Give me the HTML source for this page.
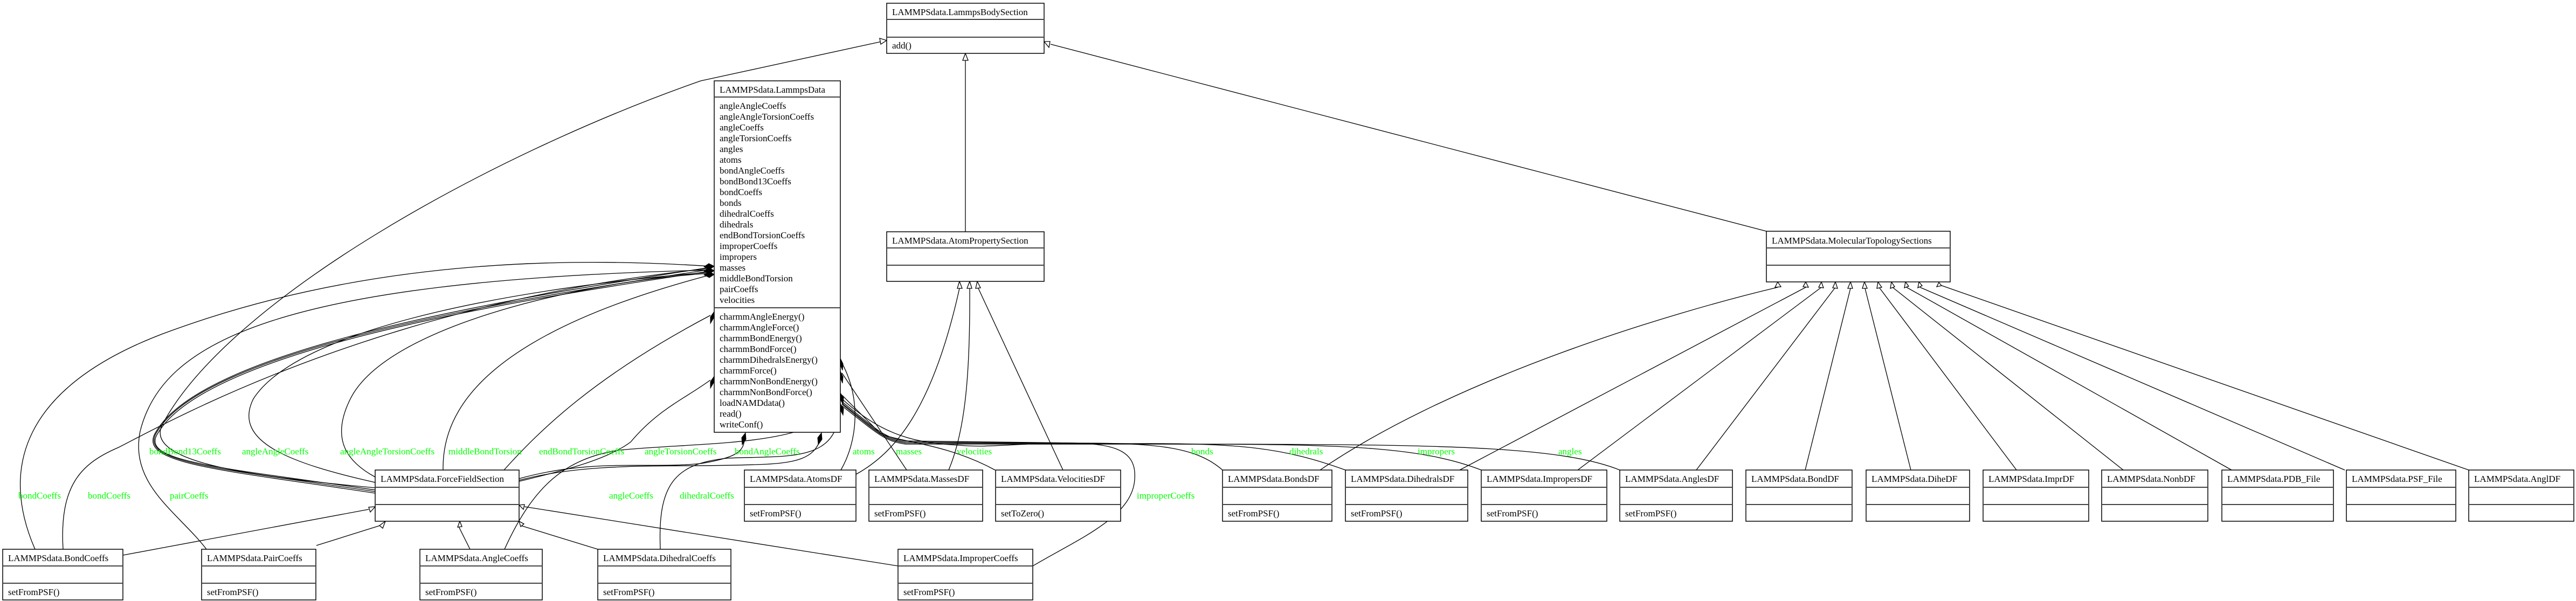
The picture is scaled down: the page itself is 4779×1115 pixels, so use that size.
<!DOCTYPE html>
<html><head><meta charset="utf-8"><style>
html,body{margin:0;padding:0;background:#fff;}
svg{display:block;}
text{font-family:"Liberation Serif",serif;font-size:17px;fill:#000;}
.g{fill:#00ff00;}
.b{fill:#fff;stroke:#000;stroke-width:1.5;}
.d{stroke:#444;stroke-width:2;}
.e{fill:none;stroke:#000;stroke-width:1.3;}
.t{fill:#fff;stroke:#000;stroke-width:1.3;}
.k{fill:#000;stroke:#000;stroke-width:1;}
</style></head><body>
<svg width="4779" height="1115" viewBox="0 0 4779 1115" xmlns="http://www.w3.org/2000/svg">

<!-- ===== edges: inheritance ===== -->
<path class="e" d="M1645,75 L1300,150 C900,290 420,560 300,790 C270,860 480,885 696,905"/>
<path class="e" d="M1791,112 L1791,430"/>
<path class="e" d="M1949,82 L3277,429"/>
<!-- AtomProperty children -->
<path class="e" d="M1588,880 C1660,840 1730,760 1780,535"/>
<path class="e" d="M1760,872 C1790,800 1800,700 1799,535"/>
<path class="e" d="M1972,872 L1815,535"/>
<!-- MolTop children -->
<path class="e" d="M2449,872 C2700,700 3100,580 3298,533"/>
<path class="e" d="M2708,872 L3350,533"/>
<path class="e" d="M2927,872 L3379,533"/>
<path class="e" d="M3147,872 L3405,533"/>
<path class="e" d="M3349,872 L3433,535"/>
<path class="e" d="M3545,872 L3460,535"/>
<path class="e" d="M3741,872 L3486,533"/>
<path class="e" d="M3939,872 L3511,533"/>
<path class="e" d="M4140,872 L3537,533"/>
<path class="e" d="M4350,872 L3562,533"/>
<path class="e" d="M4580,872 L3597,528"/>
<!-- coeff children to FFS -->
<path class="e" d="M228,1030 L684,945"/>
<path class="e" d="M587,1012 L705,975"/>
<path class="e" d="M872,1019 L851,977"/>
<path class="e" d="M1109,1019 L966,975"/>
<path class="e" d="M1666,1050 L973,940"/>

<!-- ===== edges: composition ===== -->
<path class="e" d="M65,1019 C0,870 40,720 300,620 C700,470 1100,480 1318,494"/>
<path class="e" d="M117,1019 C110,900 150,860 220,830 C300,790 700,560 1318,498"/>
<path class="e" d="M383,1019 C330,950 240,900 260,800 C300,640 500,520 1318,501"/>
<path class="e" d="M696,915 C400,870 250,860 290,800 C380,650 900,560 1318,496"/>
<path class="e" d="M696,912 C400,868 252,858 292,800 C382,652 902,562 1318,500"/>
<path class="e" d="M696,909 C400,866 254,856 294,802 C384,654 904,564 1318,503"/>
<path class="e" d="M696,895 C540,860 430,820 470,740 C560,600 1000,530 1318,505"/>
<path class="e" d="M696,885 C650,860 610,820 650,740 C720,600 1100,520 1318,507"/>
<path class="e" d="M822,872 C820,760 900,620 1318,510"/>
<path class="e" d="M935,872 C1000,800 1100,700 1318,585"/>
<path class="e" d="M963,893 C1060,870 1130,850 1170,820 C1220,760 1270,740 1318,705"/>
<path class="e" d="M963,888 C1100,850 1200,870 1300,860 C1360,850 1380,840 1381,815"/>
<path class="e" d="M963,891 C1100,855 1250,868 1400,862 C1480,860 1510,850 1522,815"/>
<path class="e" d="M936,1019 C990,900 1050,850 1150,835 C1300,820 1500,830 1559,753"/>
<path class="e" d="M1225,1019 C1220,900 1250,860 1350,850 C1460,845 1560,860 1556,752"/>
<path class="e" d="M1560,872 C1590,820 1600,740 1559,668"/>
<path class="e" d="M1682,872 L1562,692"/>
<path class="e" d="M1846,872 C1750,820 1660,820 1632,803 L1562,733"/>
<path class="e" d="M2268,872 C2220,830 2150,822 2000,822 L1680,818 C1640,812 1630,800 1562,745"/>
<path class="e" d="M2496,872 C2380,830 2300,822 2100,823 L1680,820 C1640,814 1630,802 1562,748"/>
<path class="e" d="M2748,872 C2640,830 2500,824 2200,824 L1680,822 C1640,816 1630,804 1562,750"/>
<path class="e" d="M3005,872 C2900,830 2700,825 2300,824 L1680,824 C1640,818 1630,806 1562,753"/>
<path class="e" d="M1916,1050 C2000,1000 2100,960 2105,890 C2110,830 2060,820 1950,822 C1850,826 1820,830 1780,826 C1700,822 1640,810 1562,740"/>

<!-- diamonds -->
<polygon class="k" points="1325,494 1315,489 1306,495 1316,500"/>
<polygon class="k" points="1325,502 1315,497 1306,503 1316,508"/>
<polygon class="k" points="1325,509 1315,504 1306,510 1316,515"/>
<polygon class="k" points="1325,578 1318,588 1318,600 1324,590"/>
<polygon class="k" points="1325,698 1318,708 1318,720 1324,710"/>
<polygon class="k" points="1383,803 1376,812 1377,825 1384,815"/>
<polygon class="k" points="1524,803 1517,812 1518,825 1525,815"/>
<polygon class="k" points="1559,665 1564,675 1563,687 1559,677"/>
<polygon class="k" points="1559,689 1564,699 1563,711 1559,701"/>
<polygon class="k" points="1559,729 1565,738 1564,750 1559,741"/>
<polygon class="k" points="1559,749 1565,758 1564,770 1559,761"/>

<!-- hollow triangles -->
<polygon class="t" points="1645,75 1632,71 1634,82"/>
<polygon class="t" points="1791,99 1786,112 1796,112"/>
<polygon class="t" points="1937,77 1948,77 1946,88"/>
<polygon class="t" points="1780,522 1776,535 1785,535"/>
<polygon class="t" points="1799,522 1794,535 1803,535"/>
<polygon class="t" points="1813,522 1810,535 1819,534"/>
<polygon class="t" points="3298,523 3293,533 3304,532"/>
<polygon class="t" points="3350,523 3345,532 3355,533"/>
<polygon class="t" points="3379,523 3374,533 3383,534"/>
<polygon class="t" points="3405,523 3400,534 3409,535"/>
<polygon class="t" points="3433,523 3428,535 3437,535"/>
<polygon class="t" points="3459,523 3455,535 3464,535"/>
<polygon class="t" points="3484,523 3482,535 3491,533"/>
<polygon class="t" points="3509,523 3507,535 3515,532"/>
<polygon class="t" points="3535,523 3533,534 3541,531"/>
<polygon class="t" points="3560,523 3558,534 3566,530"/>
<polygon class="t" points="3597,524 3593,532 3602,530"/>
<polygon class="t" points="696,940 684,941 687,950"/>
<polygon class="t" points="715,967 704,975 710,980"/>
<polygon class="t" points="853,967 849,978 857,977"/>
<polygon class="t" points="963,967 966,977 972,972"/>
<polygon class="t" points="963,937 973,936 971,945"/>

<!-- ===== boxes ===== -->
<!-- LammpsBodySection -->
<rect class="b" x="1645" y="6" width="292" height="93"/>
<line class="d" x1="1645" y1="36" x2="1937" y2="36"/><line class="d" x1="1645" y1="69" x2="1937" y2="69"/>
<text x="1655" y="28">LAMMPSdata.LammpsBodySection</text>
<text x="1655" y="90">add()</text>

<!-- LammpsData -->
<rect class="b" x="1325" y="150" width="234" height="652"/>
<line class="d" x1="1325" y1="180" x2="1559" y2="180"/><line class="d" x1="1325" y1="571" x2="1559" y2="571"/>
<text x="1335" y="172">LAMMPSdata.LammpsData</text>
<text x="1335" y="202">angleAngleCoeffs</text>
<text x="1335" y="222">angleAngleTorsionCoeffs</text>
<text x="1335" y="242">angleCoeffs</text>
<text x="1335" y="262">angleTorsionCoeffs</text>
<text x="1335" y="282">angles</text>
<text x="1335" y="302">atoms</text>
<text x="1335" y="322">bondAngleCoeffs</text>
<text x="1335" y="342">bondBond13Coeffs</text>
<text x="1335" y="362">bondCoeffs</text>
<text x="1335" y="382">bonds</text>
<text x="1335" y="402">dihedralCoeffs</text>
<text x="1335" y="422">dihedrals</text>
<text x="1335" y="442">endBondTorsionCoeffs</text>
<text x="1335" y="462">improperCoeffs</text>
<text x="1335" y="482">impropers</text>
<text x="1335" y="502">masses</text>
<text x="1335" y="522">middleBondTorsion</text>
<text x="1335" y="542">pairCoeffs</text>
<text x="1335" y="562">velocities</text>
<text x="1335" y="593">charmmAngleEnergy()</text>
<text x="1335" y="613">charmmAngleForce()</text>
<text x="1335" y="633">charmmBondEnergy()</text>
<text x="1335" y="653">charmmBondForce()</text>
<text x="1335" y="673">charmmDihedralsEnergy()</text>
<text x="1335" y="693">charmmForce()</text>
<text x="1335" y="713">charmmNonBondEnergy()</text>
<text x="1335" y="733">charmmNonBondForce()</text>
<text x="1335" y="753">loadNAMDdata()</text>
<text x="1335" y="773">read()</text>
<text x="1335" y="793">writeConf()</text>

<!-- AtomPropertySection -->
<rect class="b" x="1645" y="430" width="292" height="92"/>
<line class="d" x1="1645" y1="460" x2="1937" y2="460"/><line class="d" x1="1645" y1="492" x2="1937" y2="492"/>
<text x="1655" y="452">LAMMPSdata.AtomPropertySection</text>

<!-- MolecularTopologySections -->
<rect class="b" x="3277" y="429" width="341" height="94"/>
<line class="d" x1="3277" y1="460" x2="3618" y2="460"/><line class="d" x1="3277" y1="492" x2="3618" y2="492"/>
<text x="3287" y="452">LAMMPSdata.MolecularTopologySections</text>

<!-- middle row boxes (top 872) -->
<g>
<rect class="b" x="696" y="872" width="267" height="95"/>
<line class="d" x1="696" y1="904" x2="963" y2="904"/><line class="d" x1="696" y1="936" x2="963" y2="936"/>
<text x="706" y="894">LAMMPSdata.ForceFieldSection</text>

<rect class="b" x="1381" y="872" width="207" height="95"/>
<line class="d" x1="1381" y1="904" x2="1588" y2="904"/><line class="d" x1="1381" y1="936" x2="1588" y2="936"/>
<text x="1391" y="894">LAMMPSdata.AtomsDF</text><text x="1391" y="958">setFromPSF()</text>

<rect class="b" x="1612" y="872" width="211" height="95"/>
<line class="d" x1="1612" y1="904" x2="1823" y2="904"/><line class="d" x1="1612" y1="936" x2="1823" y2="936"/>
<text x="1622" y="894">LAMMPSdata.MassesDF</text><text x="1622" y="958">setFromPSF()</text>

<rect class="b" x="1847" y="872" width="232" height="95"/>
<line class="d" x1="1847" y1="904" x2="2079" y2="904"/><line class="d" x1="1847" y1="936" x2="2079" y2="936"/>
<text x="1857" y="894">LAMMPSdata.VelocitiesDF</text><text x="1857" y="958">setToZero()</text>

<rect class="b" x="2268" y="872" width="203" height="95"/>
<line class="d" x1="2268" y1="904" x2="2471" y2="904"/><line class="d" x1="2268" y1="936" x2="2471" y2="936"/>
<text x="2278" y="894">LAMMPSdata.BondsDF</text><text x="2278" y="958">setFromPSF()</text>

<rect class="b" x="2496" y="872" width="227" height="95"/>
<line class="d" x1="2496" y1="904" x2="2723" y2="904"/><line class="d" x1="2496" y1="936" x2="2723" y2="936"/>
<text x="2506" y="894">LAMMPSdata.DihedralsDF</text><text x="2506" y="958">setFromPSF()</text>

<rect class="b" x="2748" y="872" width="233" height="95"/>
<line class="d" x1="2748" y1="904" x2="2981" y2="904"/><line class="d" x1="2748" y1="936" x2="2981" y2="936"/>
<text x="2758" y="894">LAMMPSdata.ImpropersDF</text><text x="2758" y="958">setFromPSF()</text>

<rect class="b" x="3005" y="872" width="209" height="95"/>
<line class="d" x1="3005" y1="904" x2="3214" y2="904"/><line class="d" x1="3005" y1="936" x2="3214" y2="936"/>
<text x="3015" y="894">LAMMPSdata.AnglesDF</text><text x="3015" y="958">setFromPSF()</text>

<rect class="b" x="3239" y="872" width="197" height="95"/>
<line class="d" x1="3239" y1="904" x2="3436" y2="904"/><line class="d" x1="3239" y1="936" x2="3436" y2="936"/>
<text x="3249" y="894">LAMMPSdata.BondDF</text>

<rect class="b" x="3462" y="872" width="192" height="95"/>
<line class="d" x1="3462" y1="904" x2="3654" y2="904"/><line class="d" x1="3462" y1="936" x2="3654" y2="936"/>
<text x="3472" y="894">LAMMPSdata.DiheDF</text>

<rect class="b" x="3679" y="872" width="196" height="95"/>
<line class="d" x1="3679" y1="904" x2="3875" y2="904"/><line class="d" x1="3679" y1="936" x2="3875" y2="936"/>
<text x="3689" y="894">LAMMPSdata.ImprDF</text>

<rect class="b" x="3899" y="872" width="197" height="95"/>
<line class="d" x1="3899" y1="904" x2="4096" y2="904"/><line class="d" x1="3899" y1="936" x2="4096" y2="936"/>
<text x="3909" y="894">LAMMPSdata.NonbDF</text>

<rect class="b" x="4122" y="872" width="207" height="95"/>
<line class="d" x1="4122" y1="904" x2="4329" y2="904"/><line class="d" x1="4122" y1="936" x2="4329" y2="936"/>
<text x="4132" y="894">LAMMPSdata.PDB_File</text>

<rect class="b" x="4353" y="872" width="203" height="95"/>
<line class="d" x1="4353" y1="904" x2="4556" y2="904"/><line class="d" x1="4353" y1="936" x2="4556" y2="936"/>
<text x="4363" y="894">LAMMPSdata.PSF_File</text>

<rect class="b" x="4580" y="872" width="195" height="95"/>
<line class="d" x1="4580" y1="904" x2="4775" y2="904"/><line class="d" x1="4580" y1="936" x2="4775" y2="936"/>
<text x="4590" y="894">LAMMPSdata.AnglDF</text>
</g>

<!-- bottom row boxes (top 1019) -->
<rect class="b" x="5" y="1019" width="223" height="94"/>
<line class="d" x1="5" y1="1050" x2="228" y2="1050"/><line class="d" x1="5" y1="1082" x2="228" y2="1082"/>
<text x="15" y="1041">LAMMPSdata.BondCoeffs</text><text x="15" y="1104">setFromPSF()</text>

<rect class="b" x="374" y="1019" width="212" height="94"/>
<line class="d" x1="374" y1="1050" x2="586" y2="1050"/><line class="d" x1="374" y1="1082" x2="586" y2="1082"/>
<text x="384" y="1041">LAMMPSdata.PairCoeffs</text><text x="384" y="1104">setFromPSF()</text>

<rect class="b" x="779" y="1019" width="227" height="94"/>
<line class="d" x1="779" y1="1050" x2="1006" y2="1050"/><line class="d" x1="779" y1="1082" x2="1006" y2="1082"/>
<text x="789" y="1041">LAMMPSdata.AngleCoeffs</text><text x="789" y="1104">setFromPSF()</text>

<rect class="b" x="1109" y="1019" width="247" height="94"/>
<line class="d" x1="1109" y1="1050" x2="1356" y2="1050"/><line class="d" x1="1109" y1="1082" x2="1356" y2="1082"/>
<text x="1119" y="1041">LAMMPSdata.DihedralCoeffs</text><text x="1119" y="1104">setFromPSF()</text>

<rect class="b" x="1666" y="1019" width="250" height="94"/>
<line class="d" x1="1666" y1="1050" x2="1916" y2="1050"/><line class="d" x1="1666" y1="1082" x2="1916" y2="1082"/>
<text x="1676" y="1041">LAMMPSdata.ImproperCoeffs</text><text x="1676" y="1104">setFromPSF()</text>

<!-- ===== labels ===== -->
<text class="g" x="277" y="843">bondBond13Coeffs</text>
<text class="g" x="449" y="843">angleAngleCoeffs</text>
<text class="g" x="631" y="843">angleAngleTorsionCoeffs</text>
<text class="g" x="832" y="843">middleBondTorsion</text>
<text class="g" x="1000" y="843">endBondTorsionCoeffs</text>
<text class="g" x="1196" y="843">angleTorsionCoeffs</text>
<text class="g" x="1363" y="843">bondAngleCoeffs</text>
<text class="g" x="1582" y="843">atoms</text>
<text class="g" x="1662" y="843">masses</text>
<text class="g" x="1775" y="843">velocities</text>
<text class="g" x="2210" y="843">bonds</text>
<text class="g" x="2392" y="843">dihedrals</text>
<text class="g" x="2630" y="843">impropers</text>
<text class="g" x="2891" y="843">angles</text>
<text class="g" x="34" y="925">bondCoeffs</text>
<text class="g" x="163" y="925">bondCoeffs</text>
<text class="g" x="315" y="925">pairCoeffs</text>
<text class="g" x="1130" y="925">angleCoeffs</text>
<text class="g" x="1261" y="925">dihedralCoeffs</text>
<text class="g" x="2109" y="925">improperCoeffs</text>
</svg>
</body></html>
